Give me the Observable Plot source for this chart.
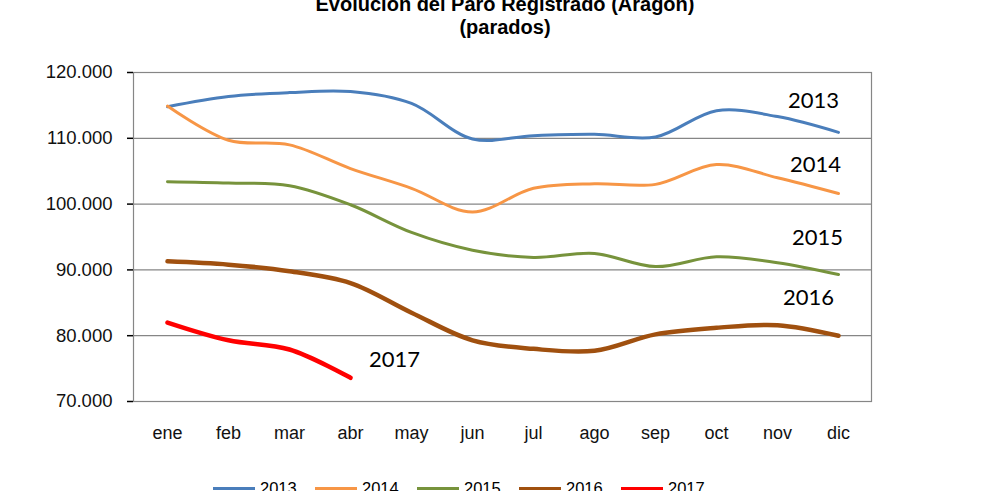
<!DOCTYPE html>
<html><head><meta charset="utf-8">
<script src="https://cdn.jsdelivr.net/npm/d3@7"></script>
<script src="https://cdn.jsdelivr.net/npm/@observablehq/plot@0.6"></script>
<style>
body{margin:0;background:#fff;overflow:hidden}
#wrap{position:relative;width:990px;height:491px;overflow:hidden}
#title{position:absolute;left:0;width:1010px;top:-7px;text-align:center;font:bold 20px "Liberation Sans",Arial,sans-serif;line-height:23px;color:#000}
#legend{position:absolute;left:213px;top:479px;display:flex;font:16.5px "Liberation Sans",Arial,sans-serif;color:#000}
.item{display:flex;align-items:center;width:102px}
.sw{width:42px;height:3px;margin-right:5px}
</style></head>
<body><div id="wrap"><div id="title">Evolución del Paro Registrado (Aragón)<br>(parados)</div><div id="legend"></div></div>
<script>
const months = ["ene","feb","mar","abr","may","jun","jul","ago","sep","oct","nov","dic"];
const years = ["2013","2014","2015","2016","2017"];
const v2013 = [114800,116350,116950,117100,115300,109900,110400,110600,110200,114200,113300,110900];
const v2014 = [114900,109700,109000,105400,102400,98800,102400,103100,103000,106000,104000,101600];
const v2015 = [103400,103200,102800,99900,95700,93000,91900,92500,90500,92000,91100,89300];
const v2016 = [91300,90800,89800,88000,83500,79300,78000,77700,80200,81200,81600,80000];
const v2017 = [82000,79300,77900,73600];
const colors = ["#4a7ebb","#f79646","#77933c","#a0500f","#ff0000"];
const widths = [3,3,3,4.5,4.5];
const yTicks = [70000,80000,90000,100000,110000,120000];
const labelMonth = ["dic","dic","dic","dic","jun"];
const labelValue = [115700,105900,94800,85700,76300];
const labelDx = [-25,-23,-21,-30,-78];

const series = [v2013,v2014,v2015,v2016,v2017];
const fmt = d => d3.format(",")(d).replace(/,/g,".");

const lineMarks = series.map((vals,i) =>
  Plot.line(vals.map((v,j)=>({month:months[j], value:v})),
    {x:"month", y:"value", stroke:colors[i], strokeWidth:widths[i], curve:"catmull-rom"}));

const labels = years.map((y,i)=>({month:labelMonth[i], value:labelValue[i], text:y, dx:labelDx[i]}));

const chart = Plot.plot({
  width:990, height:491,
  marginLeft:133, marginRight:119, marginTop:72, marginBottom:90,
  style:{fontFamily:"'Liberation Sans',Arial,sans-serif", background:"#fff", color:"#111"},
  x:{type:"point", domain:months, padding:0.5},
  y:{domain:[70000,120000]},
  marks:[
    Plot.gridY(yTicks.slice(1), {stroke:"#868686", strokeOpacity:1, strokeWidth:1.2}),
    Plot.frame({stroke:"#868686", strokeWidth:1.2}),
    ...lineMarks,
    ...labels.map(l => Plot.text([l], {x:"month", y:"value", text:"text", dx:l.dx, fontSize:22, fontFamily:"Lato, 'Open Sans', sans-serif", fill:"#000"})),
    Plot.axisY({ticks:yTicks, tickFormat:()=>"", tickSize:6, line:true, stroke:"#000", strokeWidth:1.5, label:null}),
    Plot.text(yTicks, {y:d=>d, text:fmt, frameAnchor:"left", textAnchor:"end", dx:-21, fontSize:18.5, fill:"#111"}),
    Plot.axisX({ticks:[], tickSize:0, line:true, stroke:"#000", strokeWidth:1.5, label:null}),
    Plot.text(months, {x:d=>d, text:d=>d, frameAnchor:"bottom", dy:37, fontSize:18, fill:"#111", style:{letterSpacing:"0.6px"}})
  ]
});
document.getElementById("wrap").prepend(chart);
chart.style.position="absolute"; chart.style.left="0"; chart.style.top="0";
const leg = document.getElementById("legend");
years.forEach((y,i)=>{
  const it=document.createElement("div"); it.className="item";
  it.innerHTML=`<span class="sw" style="background:${colors[i]}"></span><span>${y}</span>`;
  leg.appendChild(it);
});
</script></body></html>
